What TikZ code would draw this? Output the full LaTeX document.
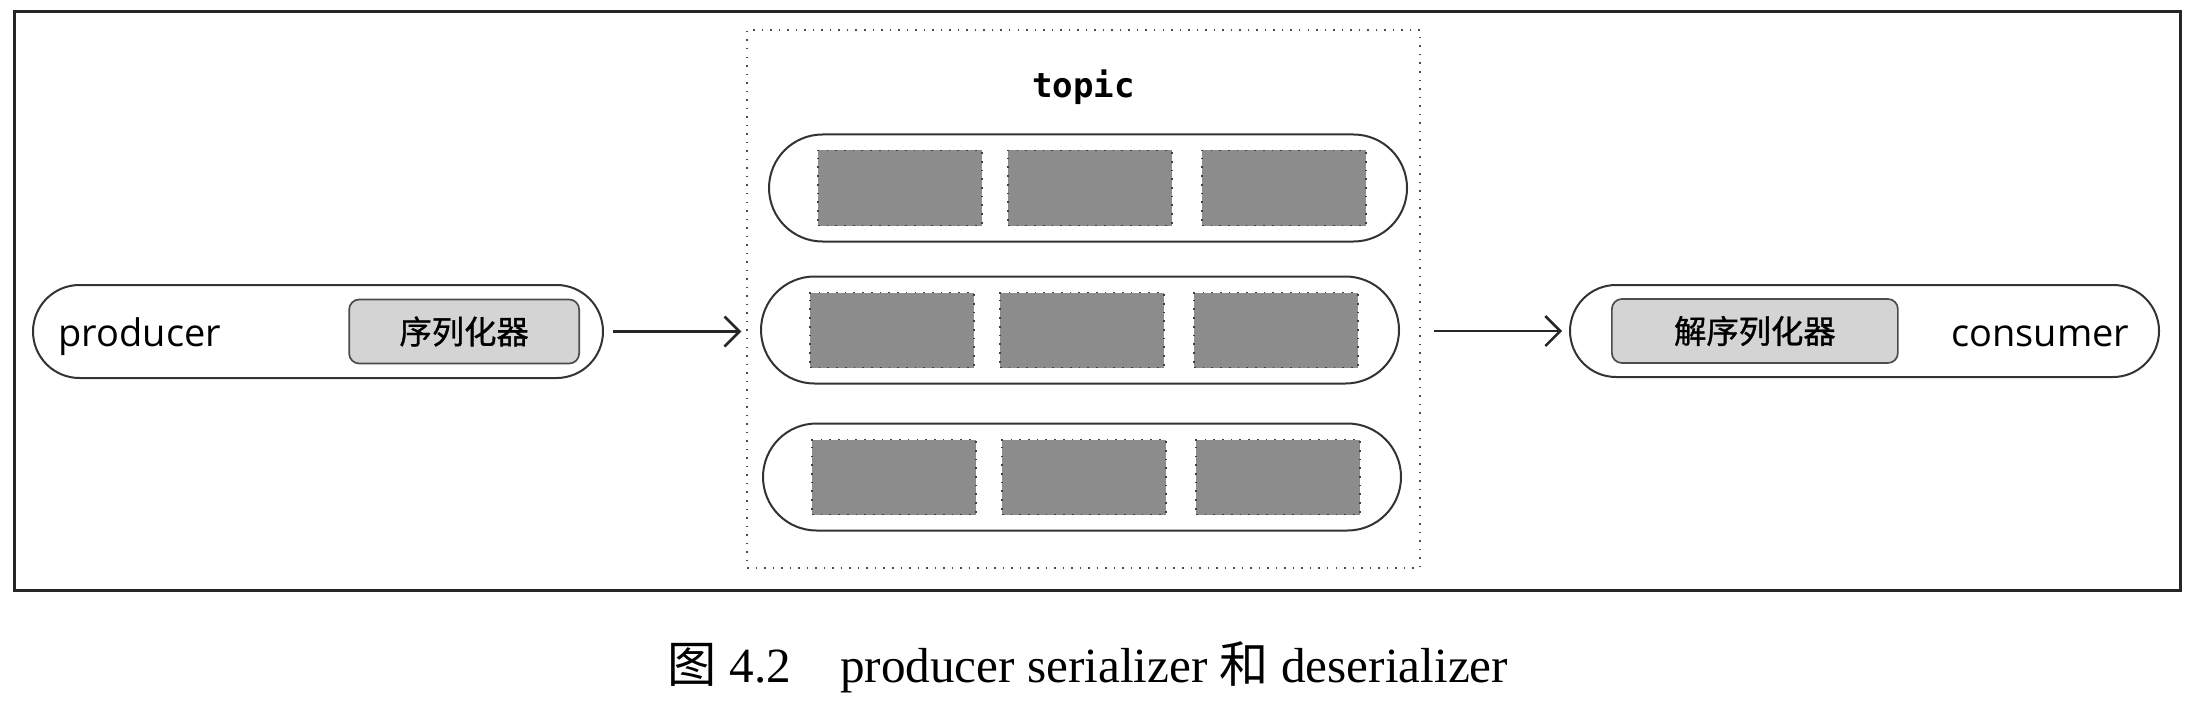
\documentclass[tikz,border=0pt]{standalone}
\usepackage{fontspec}
\setmainfont{Liberation Serif}
\newfontfamily\cjk{Noto Sans CJK SC}
\newfontfamily\cjkdark[FakeBold=1]{Noto Sans CJK SC}
\newfontfamily\labelfont{Open Sans}
\newfontfamily\topicfont{DejaVu Sans Mono}
\usetikzlibrary{arrows.meta,positioning,shapes.misc}
\definecolor{kfline}{gray}{0.2}
\definecolor{kfpart}{gray}{0.55}
\definecolor{kfserde}{gray}{0.83}
\tikzset{
  kf/frame/.style={draw=black!85, line width=0.3mm},
  kf/topic/.style={draw=black!70, dotted, line width=0.15mm, minimum width=67.3mm, minimum height=53.8mm, inner sep=0pt},
  kf/pill/.style={draw=kfline, rounded rectangle, line width=0.2mm, inner sep=0pt},
  kf/partition/.style={kf/pill, minimum width=63.8mm, minimum height=10.7mm},
  kf/record/.style={draw=black!75, dotted, line width=0.17mm, fill=kfpart, minimum width=16.4mm, minimum height=7.5mm, inner sep=0pt},
  kf/serde/.style={draw=black!70, fill=kfserde, rounded corners=1mm, line width=0.17mm, minimum height=6.4mm, inner sep=0pt, font=\cjkdark\fontsize{9.2pt}{11pt}\selectfont},
  kf/label/.style={inner sep=0pt, yshift=-0.5mm, font=\labelfont\fontsize{10.8pt}{12pt}\selectfont},
  kf/name/.style={inner sep=0pt, font=\topicfont\bfseries\fontsize{9.7pt}{11pt}\selectfont},
  kf/arrow/.style={draw=black!85, line width=0.25mm, -{Straight Barb[length=1.5mm, width=3mm]}},
  kf/caption/.style={inner sep=0pt, font=\fontsize{14pt}{16pt}\selectfont}
}

\begin{document}
\begin{tikzpicture}[x=0.1mm, y=-0.1mm, node distance=5mm and 5mm]
  \useasboundingbox (0,0) rectangle (2190,704);
  \draw[kf/frame] (14,12) rectangle (2180,590);

  % topic and its partitions
  \node[kf/topic] (topic) at (1083.5,299) {};
  \node[kf/name, below=4mm of topic.north] (topicname) {topic};
  \foreach \i/\x/\y in {1/1088/188, 2/1080/330, 3/1082/477} {
    \node[kf/partition] (part\i) at (\x,\y) {};
    \foreach \j/\dx in {1/-188, 2/2, 3/196}
      \node[kf/record] (rec\i\j) at (\x+\dx,\y) {};
  }

  % producer side
  \node[kf/pill, minimum width=57mm, minimum height=9.3mm] (producer) at (318,331.5) {};
  \node[kf/serde, minimum width=23mm, left=2.4mm of producer.east] (ser) {序列化器};
  \node[kf/label, right=2.6mm of producer.west] (producerlabel) {producer};

  % consumer side
  \node[kf/pill, minimum width=58.9mm, minimum height=9.2mm] (consumer) at (1864.5,331) {};
  \node[kf/serde, minimum width=28.6mm, right=4.2mm of consumer.west] (deser) {解序列化器};
  \node[kf/label, left=3mm of consumer.east] (consumerlabel) {consumer};

  \draw[kf/arrow, shorten <=0.9mm, shorten >=0.5mm] (producer.east) -- (producer.east -| topic.west);
  \draw[kf/arrow, shorten <=1.3mm, shorten >=0.7mm] (topic.east |- consumer.west) -- (consumer.west);

  \node[kf/caption, anchor=base] (caption) at (1088,682) {{\cjk 图}~4.2\hspace{1em}producer serializer {\cjk 和} deserializer};
\end{tikzpicture}
\end{document}
